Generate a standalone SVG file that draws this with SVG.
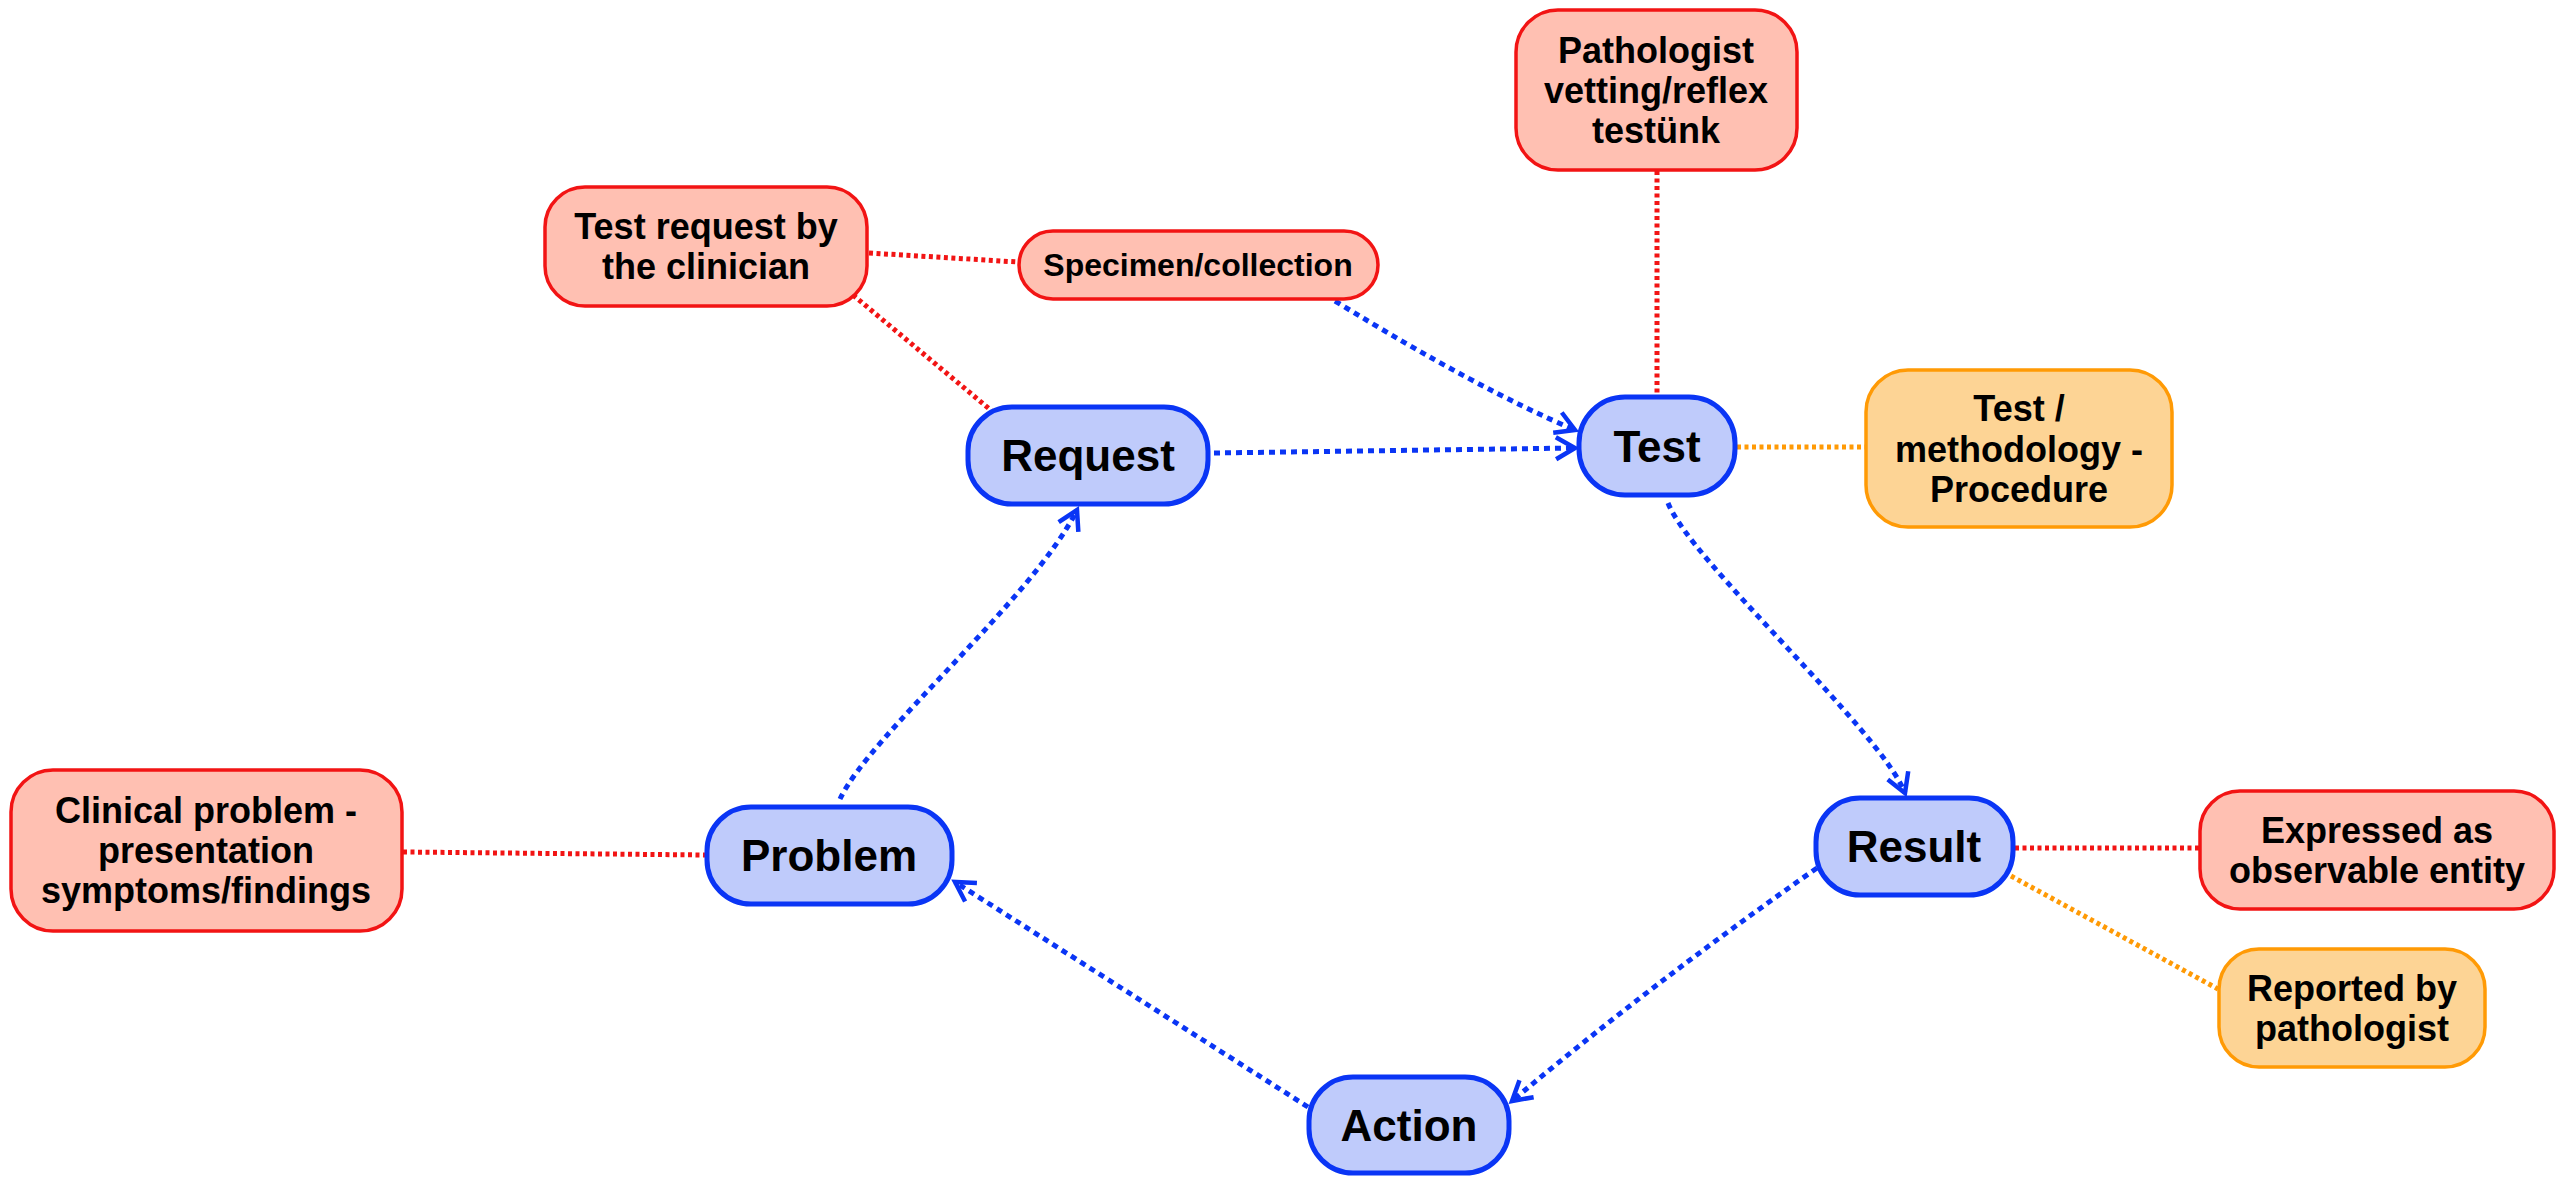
<svg xmlns="http://www.w3.org/2000/svg" width="2564" height="1178" viewBox="0 0 2564 1178">
  <style>
    .core rect { fill: #BFCBFB; stroke: #0A35F5; stroke-width: 5; }
    .red rect { fill: #FFC0B2; stroke: #F21414; stroke-width: 3.5; }
    .amber rect { fill: #FDD495; stroke: #FF9A05; stroke-width: 3.5; }
    text { font-family: "Liberation Sans", Arial, sans-serif; font-weight: bold; fill: #000; text-anchor: middle; }
    .core text { font-size: 44px; }
    .red text, .amber text { font-size: 36px; }
    .flow { fill: none; stroke: #0A35F5; stroke-width: 5; stroke-dasharray: 6 5; marker-end: url(#chevron); }
    .link-red { fill: none; stroke: #F21414; stroke-width: 5; stroke-dasharray: 4 3.5; }
    .link-amber { fill: none; stroke: #FF9A05; stroke-width: 5; stroke-dasharray: 4 3.5; }
  </style>
  <defs>
    <marker id="chevron" markerUnits="userSpaceOnUse" markerWidth="30" markerHeight="30" viewBox="-24 -15 30 30" refX="0" refY="0" orient="auto">
      <path d="M -19 -11 L 0 0 L -19 11" fill="none" stroke="#0A35F5" stroke-width="4.5" stroke-linejoin="miter"/>
    </marker>
  </defs>
  <rect width="2564" height="1178" fill="#FFFFFF"/>

  <!-- connectors -->
  <g id="connectors">
    <!-- main cycle -->
    <path class="flow" d="M 1214 453 L 1575 448"/>
    <path class="flow" d="M 1335 301 Q 1480 390 1575 430"/>
    <path class="flow" d="M 1668 503 C 1690 560 1880 730 1905 793"/>
    <path class="flow" d="M 1817 868 Q 1650 985 1512 1101"/>
    <path class="flow" d="M 1308 1107 L 955 882"/>
    <path class="flow" d="M 840 799 C 870 735 1032 600 1077 510"/>
    <!-- annotations -->
    <path class="link-red" d="M 869 253 L 1018 262"/>
    <path class="link-red" d="M 853 295 L 993 412"/>
    <path class="link-red" d="M 1657 171 L 1657 396"/>
    <path class="link-red" d="M 403 852 L 706 855"/>
    <path class="link-red" d="M 2015 848 L 2199 848"/>
    <path class="link-amber" d="M 1737 447 L 1865 447"/>
    <path class="link-amber" d="M 2011 876 L 2218 989"/>
  </g>

  <!-- process nodes -->
  <g id="request" class="core">
    <rect x="968" y="407" width="240" height="97" rx="44"/>
    <text x="1088" y="471">Request</text>
  </g>
  <g id="test" class="core">
    <rect x="1579" y="397" width="156" height="98" rx="46"/>
    <text x="1657" y="462">Test</text>
  </g>
  <g id="result" class="core">
    <rect x="1816" y="798" width="197" height="97" rx="44"/>
    <text x="1914" y="862">Result</text>
  </g>
  <g id="action" class="core">
    <rect x="1309" y="1077" width="200" height="96" rx="44"/>
    <text x="1409" y="1141">Action</text>
  </g>
  <g id="problem" class="core">
    <rect x="707" y="807" width="245" height="97" rx="44"/>
    <text x="829" y="871">Problem</text>
  </g>

  <!-- annotation nodes -->
  <g id="test-request" class="red">
    <rect x="545" y="187" width="322" height="119" rx="40"/>
    <text x="706" y="239">Test request by</text>
    <text x="706" y="279">the clinician</text>
  </g>
  <g id="specimen" class="red">
    <rect x="1019" y="231" width="359" height="68" rx="34"/>
    <text x="1198" y="276" style="font-size:32px">Specimen/collection</text>
  </g>
  <g id="vetting" class="red">
    <rect x="1516" y="10" width="281" height="160" rx="42"/>
    <text x="1656" y="63">Pathologist</text>
    <text x="1656" y="103">vetting/reflex</text>
    <text x="1656" y="143">testünk</text>
  </g>
  <g id="clinical-problem" class="red">
    <rect x="11" y="770" width="391" height="161" rx="42"/>
    <text x="206" y="823">Clinical problem -</text>
    <text x="206" y="863">presentation</text>
    <text x="206" y="903">symptoms/findings</text>
  </g>
  <g id="observable" class="red">
    <rect x="2200" y="791" width="354" height="118" rx="40"/>
    <text x="2377" y="843">Expressed as</text>
    <text x="2377" y="883">observable entity</text>
  </g>
  <g id="methodology" class="amber">
    <rect x="1866" y="370" width="306" height="157" rx="42"/>
    <text x="2019" y="421">Test /</text>
    <text x="2019" y="462">methodology -</text>
    <text x="2019" y="502">Procedure</text>
  </g>
  <g id="reported" class="amber">
    <rect x="2219" y="949" width="266" height="118" rx="40"/>
    <text x="2352" y="1001">Reported by</text>
    <text x="2352" y="1041">pathologist</text>
  </g>
</svg>
